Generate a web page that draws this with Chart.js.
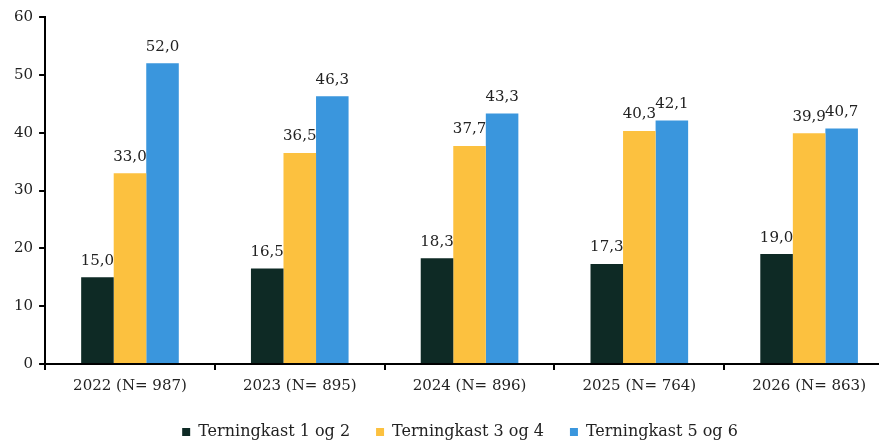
<!DOCTYPE html>
<html>
<head>
<meta charset="utf-8">
<script src="https://cdn.jsdelivr.net/npm/chart.js@4/dist/chart.umd.min.js"></script>
<style>
  html, body { margin: 0; padding: 0; background: #fff; overflow: hidden; }
  #wrap { position: relative; width: 894px; height: 450px; }
</style>
</head>
<body>
<div id="wrap"><canvas id="c"></canvas></div>
<script>
// 数据
const categories = ['2022 (N= 987)', '2023 (N= 895)', '2024 (N= 896)', '2025 (N= 764)', '2026 (N= 863)'];
const seriesLabels = ['Terningkast 1 og 2', 'Terningkast 3 og 4', 'Terningkast 5 og 6'];
const kast12 = [15.0, 16.5, 18.3, 17.3, 19.0];
const kast34 = [33.0, 36.5, 37.7, 40.3, 39.9];
const kast56 = [52.0, 46.3, 43.3, 42.1, 40.7];
const colors = ['#0e2a25', '#fcc13f', '#3a96dd'];

const FONT = "'DejaVu Serif', 'Liberation Serif', serif";

// 柱顶数值标签
const valueLabels = {
  id: 'valueLabels',
  afterDatasetsDraw(chart) {
    const { ctx } = chart;
    ctx.save();
    ctx.font = '15px ' + FONT;
    ctx.fillStyle = '#222';
    ctx.textAlign = 'center';
    ctx.textBaseline = 'bottom';
    chart.data.datasets.forEach((ds, i) => {
      chart.getDatasetMeta(i).data.forEach((bar, j) => {
        ctx.fillText(ds.data[j].toFixed(1).replace('.', ','), bar.x, bar.y - 9);
      });
    });
    ctx.restore();
  }
};

// 图例整体右移一点
const legendShift = {
  id: 'legendShift',
  afterUpdate(chart) {
    if (!chart.legend) return;
    chart.legend.left += 9;
    chart.legend.right += 9;
  }
};

const axisGrid = { drawOnChartArea: false, drawTicks: true, tickLength: 6, color: '#000', lineWidth: 2 };

new Chart(document.getElementById('c'), {
  type: 'bar',
  data: {
    labels: categories,
    datasets: [kast12, kast34, kast56].map((d, i) => ({
      label: seriesLabels[i],
      data: d,
      backgroundColor: colors[i],
      borderWidth: 0,
      barPercentage: 1,
      categoryPercentage: 0.575
    }))
  },
  options: {
    responsive: true,
    maintainAspectRatio: false,
    animation: false,
    layout: { padding: { top: 17, left: 8, right: 0, bottom: 0 } },
    plugins: {
      tooltip: { enabled: false },
      legend: {
        position: 'bottom',
        labels: {
          color: '#222',
          font: { family: FONT, size: 16 },
          usePointStyle: true,
          pointStyle: 'rect',
          boxWidth: 8,
          boxHeight: 8,
          padding: 26
        }
      }
    },
    scales: {
      x: {
        grid: axisGrid,
        border: { display: true, color: '#000', width: 2 },
        ticks: { color: '#222', font: { family: FONT, size: 15 }, padding: 7, maxRotation: 0 },
        afterFit: (scale) => { scale.height -= 4; }
      },
      y: {
        min: 0,
        max: 60,
        grid: axisGrid,
        border: { display: true, color: '#000', width: 2 },
        ticks: { stepSize: 10, color: '#222', font: { family: FONT, size: 15 }, padding: 6 }
      }
    }
  },
  plugins: [valueLabels, legendShift]
});
</script>
</body>
</html>
